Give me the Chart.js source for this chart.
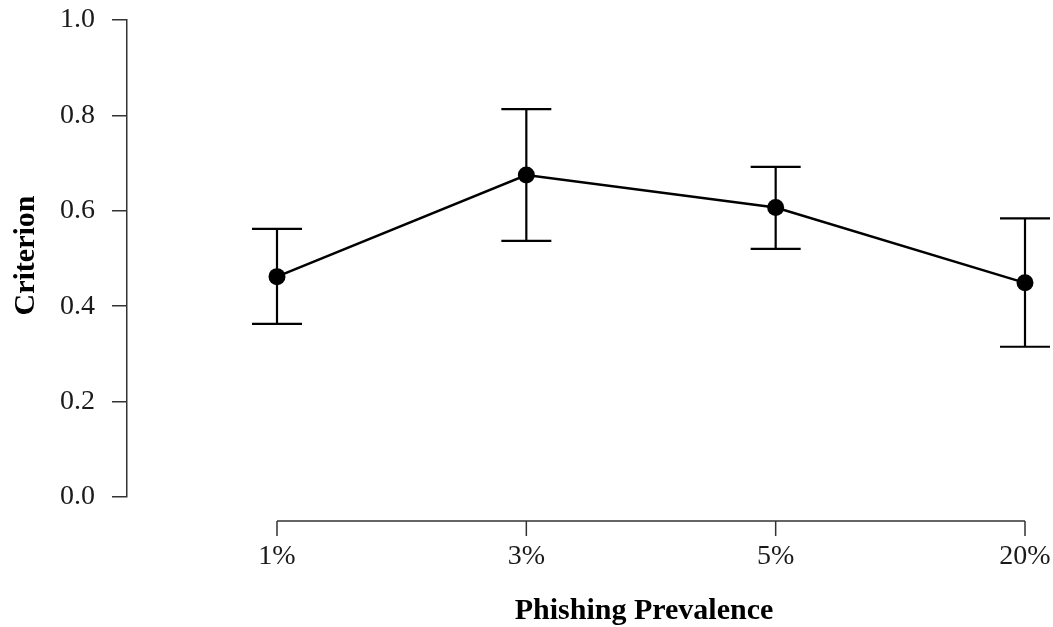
<!DOCTYPE html>
<html>
<head>
<meta charset="utf-8">
<script src="https://cdn.jsdelivr.net/npm/chart.js@4"></script>
<style>
  html, body { margin: 0; padding: 0; background: #fff; }
  canvas { display: block; }
</style>
</head>
<body>
<canvas id="critChart" width="1053" height="627"></canvas>
<script>
const categories = ['1%', '3%', '5%', '20%'];
const criterion = [0.462, 0.675, 0.607, 0.449];
const upper = [0.562, 0.813, 0.692, 0.584];
const lower = [0.363, 0.537, 0.520, 0.315];
const yTicks = [0, 0.2, 0.4, 0.6, 0.8, 1.0];

const serif = '"Liberation Serif", "Times New Roman", serif';
const ink = '#1a1a1a';

// R-style error bars, detached x axis and axis titles
const rStyle = {
    id: 'rStyle',
    afterDatasetsDraw(chart) {
        const { ctx, scales: { x, y } } = chart;
        ctx.save();
        ctx.strokeStyle = '#000';
        ctx.lineWidth = 2.2;
        categories.forEach((c, i) => {
            const px = x.getPixelForValue(i);
            const top = y.getPixelForValue(upper[i]);
            const bot = y.getPixelForValue(lower[i]);
            ctx.beginPath();
            ctx.moveTo(px, top); ctx.lineTo(px, bot);
            ctx.moveTo(px - 25, top); ctx.lineTo(px + 25, top);
            ctx.moveTo(px - 25, bot); ctx.lineTo(px + 25, bot);
            ctx.stroke();
        });
        ctx.restore();
    },
    afterDraw(chart) {
        const { ctx, chartArea, scales: { x, y } } = chart;
        const axisY = chartArea.bottom + 24;
        const x0 = x.getPixelForValue(0);
        const x1 = x.getPixelForValue(categories.length - 1);
        ctx.save();
        ctx.strokeStyle = '#333';
        ctx.lineWidth = 1.5;
        ctx.beginPath();
        ctx.moveTo(x0, axisY); ctx.lineTo(x1, axisY);
        categories.forEach((c, i) => {
            const px = x.getPixelForValue(i);
            ctx.moveTo(px, axisY); ctx.lineTo(px, axisY + 15);
        });
        ctx.stroke();

        ctx.fillStyle = '#000';
        ctx.font = 'bold 30px ' + serif;
        ctx.textAlign = 'center';
        ctx.textBaseline = 'alphabetic';
        ctx.fillText('Phishing Prevalence', (x0 + x1) / 2 - 7, 619);

        ctx.translate(34, (chartArea.top + chartArea.bottom) / 2 - 3);
        ctx.rotate(-Math.PI / 2);
        ctx.fillText('Criterion', 0, 0);
        ctx.restore();
    }
};

const ctx = document.getElementById('critChart').getContext('2d');
const critChart = new Chart(ctx, {
    type: 'line',
    data: {
        datasets: [{
            label: 'Criterion',
            data: criterion.map((v, i) => ({ x: i, y: v })),
            borderColor: '#000',
            backgroundColor: '#000',
            borderWidth: 2.5,
            pointRadius: 8.5,
            pointHoverRadius: 8.5,
            pointBorderWidth: 0,
            tension: 0,
            clip: false
        }]
    },
    options: {
        responsive: false,
        animation: false,
        events: [],
        layout: { padding: { top: 20, right: 28, left: 0, bottom: 0 } },
        plugins: {
            legend: { display: false },
            tooltip: { enabled: false }
        },
        scales: {
            x: {
                type: 'linear',
                min: -0.6016,
                max: categories.length - 1,
                afterBuildTicks: s => { s.ticks = categories.map((c, i) => ({ value: i })); },
                afterFit: s => { s.height = 130; s.paddingLeft = 0; s.paddingRight = 0; },
                grid: { display: false, drawTicks: false },
                border: { display: false },
                ticks: {
                    padding: 43,
                    autoSkip: false,
                    maxRotation: 0,
                    color: ink,
                    font: { family: serif, size: 28 },
                    callback: v => categories[v]
                }
            },
            y: {
                min: 0,
                max: 1,
                afterBuildTicks: s => { s.ticks = yTicks.map(v => ({ value: v })); },
                afterFit: s => { s.width = 127; s.paddingTop = 0; s.paddingBottom = 0; },
                grid: {
                    drawOnChartArea: false,
                    tickLength: 15,
                    color: '#333',
                    lineWidth: 1.5
                },
                border: { display: true, color: '#333', width: 1.5 },
                ticks: {
                    padding: 17,
                    color: ink,
                    font: { family: serif, size: 28 },
                    callback: v => v.toFixed(1)
                }
            }
        }
    },
    plugins: [rStyle]
});
</script>
</body>
</html>
